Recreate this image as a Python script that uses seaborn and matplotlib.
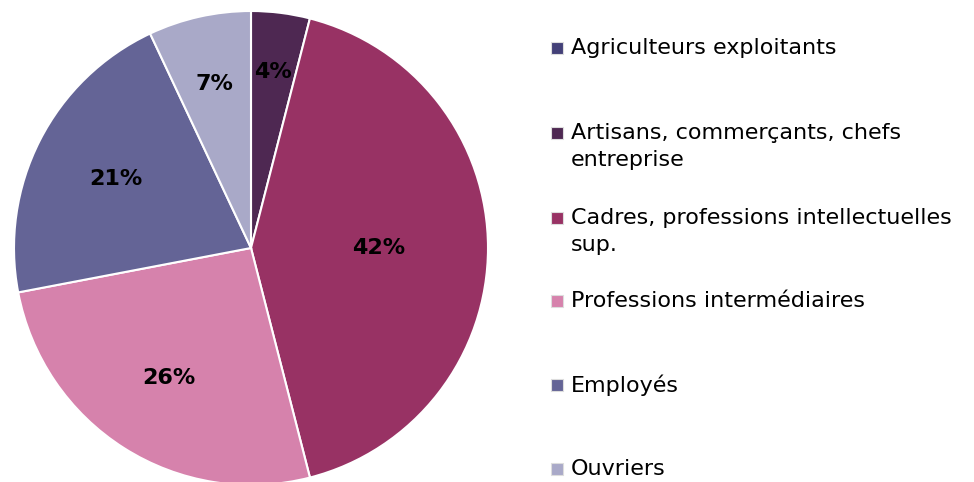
import matplotlib
matplotlib.use("Agg")
import matplotlib.pyplot as plt
from matplotlib.patches import Rectangle
import numpy as np
import seaborn as sns

# ─── Data ────────────────────────────────────────────────────────────────────

CATEGORIES = [
    "Agriculteurs exploitants",
    "Artisans, commerçants, chefs\nentreprise",
    "Cadres, professions intellectuelles\nsup.",
    "Professions intermédiaires",
    "Employés",
    "Ouvriers",
]
SHARES = [0, 4, 42, 26, 21, 7]
COLORS = ["#434078", "#4E2852", "#983264", "#D682AC", "#646496", "#A9A9C8"]

# label distance from centre (fraction of radius), Excel "best fit" look
LABEL_RADIUS = [0.75, 0.75, 0.54, 0.65, 0.64, 0.71]

sns.set_theme(style="white")
plt.rcParams["font.family"] = ["DejaVu Sans"]

fig = plt.figure(figsize=(9.74, 4.82), dpi=100)
W, H = 974, 482
cx, cy, r = 251, 248, 237
ax = fig.add_axes([(cx - r) / W, (H - cy - r) / H, 2 * r / W, 2 * r / H])

wedges, _ = ax.pie(
    SHARES, colors=COLORS, startangle=90, counterclock=False,
    wedgeprops={"edgecolor": "white", "linewidth": 1.5},
    radius=1.0,
)
for w, val, lr in zip(wedges, SHARES, LABEL_RADIUS):
    if val == 0:
        continue
    mid = np.deg2rad((w.theta1 + w.theta2) / 2)
    ax.text(lr * np.cos(mid), lr * np.sin(mid), "{}%".format(val),
            ha="center", va="center", fontsize=16, fontweight="bold",
            color="black")
ax.set_xlim(-1, 1)
ax.set_ylim(-1, 1)
ax.set_aspect("equal")
ax.axis("off")

# ─── Legend (Excel style, marker aligned with first line) ────────────────────
legend_y = [48, 133, 218, 301, 385, 469]
for label, col, y in zip(CATEGORIES, COLORS, legend_y):
    fig.patches.append(Rectangle((551 / W, (H - y - 6) / H), 12 / W, 12 / H,
                                 transform=fig.transFigure, facecolor=col,
                                 edgecolor="#dddddd", linewidth=0.8))
    fig.text(571 / W, (H - y + 10) / H, label, ha="left", va="top",
             fontsize=16, color="black", linespacing=1.45,
             transform=fig.transFigure)

fig.savefig("out.png", dpi=100)
plt.close(fig)
